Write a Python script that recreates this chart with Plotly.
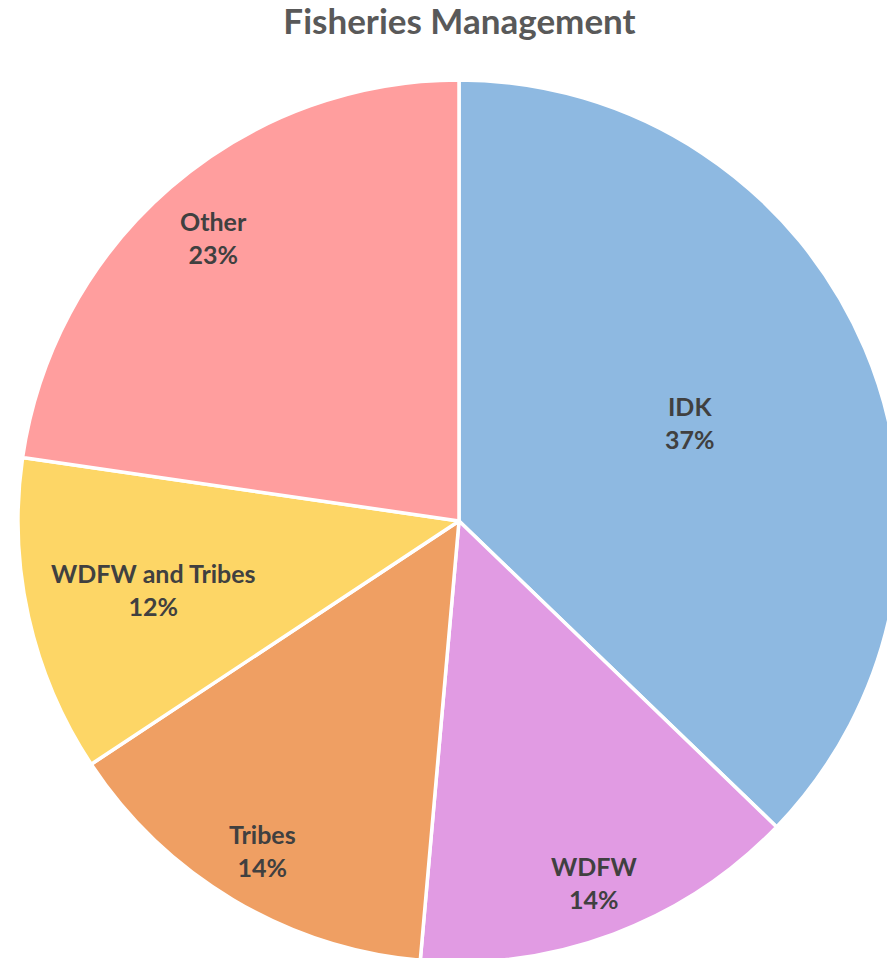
import math
import plotly.graph_objects as go

labels = ["IDK", "WDFW", "Tribes", "WDFW and Tribes", "Other"]
values = [37.2, 14.2, 14.3, 11.6, 22.7]
colors = ["#8EB9E1", "#E19BE3", "#EF9F63", "#FDD666", "#FF9E9E"]
title_text = "Fisheries Management"

# label placement style (fraction of radius along each slice bisector, like Excel best-fit)
label_radius = [0.57, 0.875, 0.87, 0.71, 0.85]

W, H = 905, 970
cx, cy, R = 459, 521, 441

fig = go.Figure(go.Pie(
    labels=labels,
    values=values,
    sort=False,
    direction="clockwise",
    rotation=0,
    marker=dict(colors=colors, line=dict(color="white", width=3.5)),
    textinfo="none",
    hoverinfo="label+percent",
    domain=dict(x=[(cx - R) / W, (cx + R) / W], y=[(H - cy - R) / H, (H - cy + R) / H]),
    showlegend=False,
))

total = sum(values)
cum = 0.0
for lab, v, rf in zip(labels, values, label_radius):
    mid = (cum + v / 2) / total * 2 * math.pi
    cum += v
    px = cx + rf * R * math.sin(mid)
    py = cy - rf * R * math.cos(mid)
    pct = round(v / total * 100)
    fig.add_annotation(
        x=px / W, y=(H - py) / H, xref="paper", yref="paper",
        text=f"<b>{lab}</b><br><b>{pct}%</b>", showarrow=False,
        xanchor="center", yanchor="middle", align="center",
        font=dict(family="Lato", size=25, color="#404040"),
    )

fig.update_layout(
    width=W, height=H,
    margin=dict(l=0, r=0, t=0, b=0),
    paper_bgcolor="white",
    title=dict(text="<b>" + title_text + "</b>", x=459.5 / W, xanchor="center",
               y=1 - 22 / H, yanchor="middle",
               font=dict(family="Lato", size=35, color="#595959")),
)

fig.write_html("out.html", config={"displayModeBar": False},
               post_script="document.body.style.margin='0';document.body.style.overflow='hidden';document.documentElement.style.overflow='hidden';")
